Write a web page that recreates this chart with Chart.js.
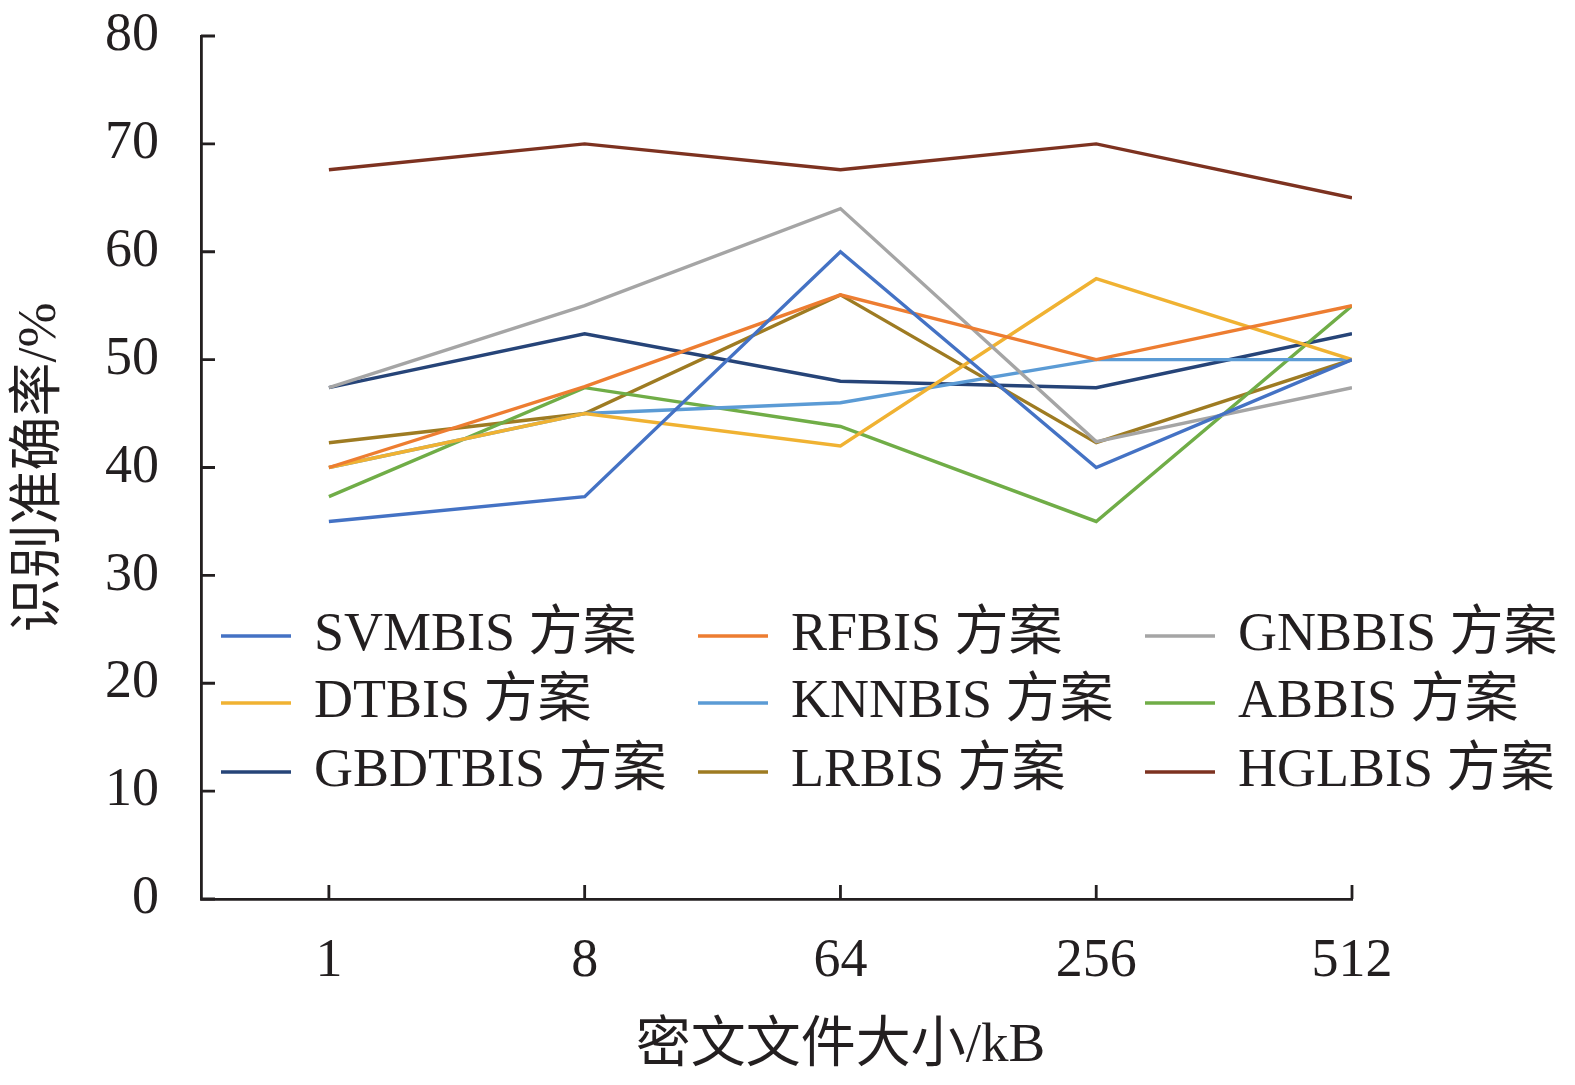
<!DOCTYPE html>
<html>
<head>
<meta charset="utf-8">
<script src="https://cdn.jsdelivr.net/npm/chart.js@4.4.1/dist/chart.umd.min.js"></script>
<style>
  html, body { margin: 0; padding: 0; background: #fff; }
  #wrap { width: 1575px; height: 1085px; }
</style>
</head>
<body>
<div id="wrap"><canvas id="chart" width="1575" height="1085"></canvas></div>
<script>
// chart data
const categories = ['1', '8', '64', '256', '512'];
const seriesNames = ['SVMBIS 方案', 'RFBIS 方案', 'GNBBIS 方案', 'DTBIS 方案', 'KNNBIS 方案',
                     'ABBIS 方案', 'GBDTBIS 方案', 'LRBIS 方案', 'HGLBIS 方案'];
const svm  = [35, 37.3, 60, 40, 50];
const rf   = [40, 47.5, 56, 50, 55];
const gnb  = [47.4, 55, 64, 42.4, 47.4];
const dt   = [40, 45, 42, 57.5, 50];
const knn  = [40, 45, 46, 50, 50];
const ab   = [37.3, 47.4, 43.8, 35, 55];
const gbdt = [47.4, 52.4, 48, 47.4, 52.4];
const lr   = [42.3, 45, 56, 42.3, 50];
const hgl  = [67.6, 70, 67.6, 70, 65];
const yTicks = [0, 10, 20, 30, 40, 50, 60, 70, 80];
const xTitle = '密文文件大小/kB';
const yTitle = '识别准确率/%';

const colors = ['#4472C4', '#ED7D31', '#A5A5A5', '#F0B232', '#5B9BD5',
                '#70AD47', '#264478', '#9E7B22', '#7D3220'];
const allSeries = [svm, rf, gnb, dt, knn, ab, gbdt, lr, hgl];

const FONT = "'Liberation Serif', 'Times New Roman', 'Noto Sans CJK SC', serif";
const INK = '#231f20';

// inward tick marks on both axes, plus the x title centred under the categories
const innerTicks = {
    id: 'innerTicks',
    afterDraw(chart) {
        const ctx = chart.ctx, a = chart.chartArea;
        const xs = chart.scales.x, ys = chart.scales.y;
        ctx.save();
        ctx.strokeStyle = INK;
        ctx.lineWidth = 2.8;
        ctx.beginPath();
        yTicks.forEach(v => {
            const y = ys.getPixelForValue(v);
            ctx.moveTo(a.left, y);
            ctx.lineTo(a.left + 14, y);
        });
        categories.forEach((c, i) => {
            const x = xs.getPixelForValue(i);
            ctx.moveTo(x, a.bottom);
            ctx.lineTo(x, a.bottom - 14);
        });
        ctx.stroke();
        ctx.font = '55px ' + FONT;
        ctx.fillStyle = INK;
        ctx.textAlign = 'center';
        ctx.textBaseline = 'middle';
        ctx.fillText(xTitle, xs.getPixelForValue((categories.length - 1) / 2), a.bottom + 148);
        ctx.restore();
    }
};

// legend in three columns inside the plot
const legendCols = [20, 497, 944];
const legendRows = [600, 667, 736];
const boxLegend = {
    id: 'boxLegend',
    afterDraw(chart) {
        const ctx = chart.ctx, a = chart.chartArea;
        ctx.save();
        ctx.font = '54px ' + FONT;
        ctx.textBaseline = 'middle';
        ctx.fillStyle = INK;
        chart.data.datasets.forEach((ds, i) => {
            const x = a.left + legendCols[i % 3];
            const y = a.top + legendRows[Math.floor(i / 3)];
            ctx.strokeStyle = ds.borderColor;
            ctx.lineWidth = 3.4;
            ctx.beginPath();
            ctx.moveTo(x, y);
            ctx.lineTo(x + 70, y);
            ctx.stroke();
            ctx.fillText(ds.label, x + 93, y);
        });
        ctx.restore();
    }
};

const datasets = seriesNames.map((name, i) => ({
    label: name,
    data: allSeries[i].map((v, j) => ({ x: j, y: v })),
    borderColor: colors[i],
    backgroundColor: colors[i],
    borderWidth: 3.4,
    pointRadius: 0,
    tension: 0,
    fill: false
}));

new Chart(document.getElementById('chart').getContext('2d'), {
    type: 'line',
    data: { datasets: datasets },
    plugins: [innerTicks, boxLegend],
    options: {
        responsive: false,
        animation: false,
        layout: { padding: { left: 0, top: 36, right: 223, bottom: 0 } },
        plugins: { legend: { display: false }, tooltip: { enabled: false } },
        scales: {
            x: {
                type: 'linear',
                min: -0.5,
                max: categories.length - 1,
                afterBuildTicks(scale) {
                    scale.ticks = categories.map((c, i) => ({ value: i }));
                },
                afterFit(scale) {
                    scale.height = 186;
                    scale.paddingLeft = 0;
                    scale.paddingRight = 0;
                },
                grid: { drawOnChartArea: false, drawTicks: false },
                border: { color: INK, width: 2.8 },
                ticks: {
                    autoSkip: false,
                    maxRotation: 0,
                    padding: 30,
                    color: INK,
                    font: { family: FONT, size: 54 },
                    callback: v => categories[v]
                }
            },
            y: {
                min: 0,
                max: 80,
                afterBuildTicks(scale) {
                    scale.ticks = yTicks.map(v => ({ value: v }));
                },
                afterFit(scale) {
                    scale.width = 201;
                    scale.paddingTop = 0;
                    scale.paddingBottom = 0;
                },
                grid: { drawOnChartArea: false, drawTicks: false },
                border: { color: INK, width: 2.8 },
                ticks: {
                    padding: 42,
                    color: INK,
                    font: { family: FONT, size: 54 }
                },
                title: {
                    display: true,
                    text: yTitle,
                    color: INK,
                    font: { family: FONT, size: 54 },
                    padding: { top: 8, bottom: 0 }
                }
            }
        }
    }
});
</script>
</body>
</html>
